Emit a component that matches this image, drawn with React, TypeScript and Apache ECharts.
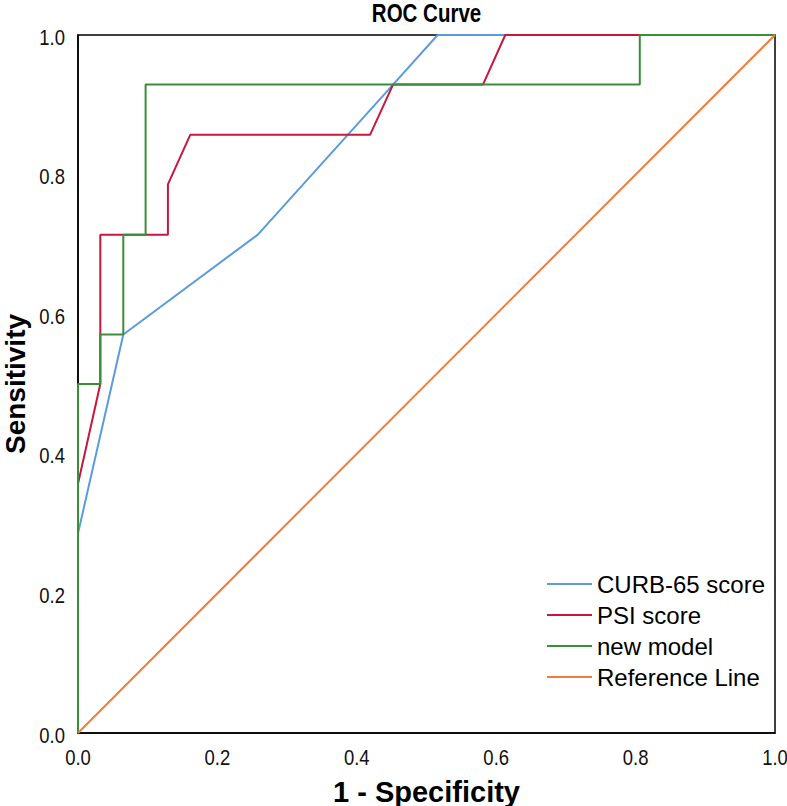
import React, { useEffect, useRef } from "react";
import * as echarts from "echarts";

const chartTitle = "ROC Curve";
const seriesNames = ["CURB-65 score", "PSI score", "new model", "Reference Line"];
const seriesColors = ["#5b9bdc", "#c8173c", "#3a8d3a", "#f07d3c"];
const xTicks = [0, 0.2, 0.4, 0.6, 0.8, 1.0];
const yTicks = [0, 0.2, 0.4, 0.6, 0.8, 1.0];

const curb65: number[][] = [
  [0, 0], [0, 0.286], [0.065, 0.571], [0.258, 0.714], [0.452, 0.929], [0.516, 1], [1, 1],
];
const psi: number[][] = [
  [0, 0], [0, 0.357], [0.032, 0.5], [0.032, 0.714], [0.129, 0.714], [0.129, 0.786],
  [0.161, 0.857], [0.419, 0.857], [0.452, 0.929], [0.581, 0.929], [0.613, 1], [1, 1],
];
const newModel: number[][] = [
  [0, 0], [0, 0.5], [0.032, 0.5], [0.032, 0.571], [0.065, 0.571], [0.065, 0.714],
  [0.097, 0.714], [0.097, 0.929], [0.806, 0.929], [0.806, 1], [1, 1],
];
const referenceLine: number[][] = [[0, 0], [1, 1]];

const FONT = "'Liberation Sans', Arial, Helvetica, sans-serif";
const NARROW_SCALE = 0.84;

export default function App() {
  const ref = useRef<HTMLDivElement>(null);
  useEffect(() => {
    if (!ref.current) return;
    const chart = echarts.init(ref.current, undefined, { renderer: "svg" });
    const datasets = [curb65, psi, newModel, referenceLine];
    chart.setOption({
      animation: false,
      backgroundColor: "#ffffff",
      legend: {
        orient: "vertical",
        left: 547,
        top: 572,
        padding: 0,
        itemWidth: 45,
        itemHeight: 2,
        itemGap: 7,
        icon: "rect",
        data: seriesNames,
        textStyle: { fontFamily: FONT, fontSize: 24, color: "#000", lineHeight: 24 },
      },
      grid: {
        left: 78, right: 12, top: 35, bottom: 73,
        outerBoundsMode: "none",
        containLabel: false,
        show: true, borderColor: "#000", borderWidth: 1.5, backgroundColor: "transparent",
      },
      xAxis: {
        type: "value",
        min: 0,
        max: 1,
        interval: 0.2,
        name: "1 - Specificity",
        nameLocation: "middle",
        nameGap: 44,
        nameTextStyle: { fontFamily: FONT, fontSize: 29, fontWeight: "bold", color: "#000" },
        axisLine: { show: true, lineStyle: { color: "#000", width: 1.5 } },
        axisTick: { show: false },
        splitLine: { show: false },
        axisLabel: { show: false },
      },
      yAxis: {
        type: "value",
        min: 0,
        max: 1,
        interval: 0.2,
        name: "Sensitivity",
        nameLocation: "middle",
        nameGap: 49,
        nameTextStyle: { fontFamily: FONT, fontSize: 28, lineHeight: 28, fontWeight: "bold", color: "#000" },
        axisLine: { show: true, lineStyle: { color: "#000", width: 1.5 } },
        axisTick: { show: false },
        splitLine: { show: false },
        axisLabel: { show: false },
      },
      series: datasets.map((d, i) => ({
        name: seriesNames[i],
        type: "line",
        data: d,
        showSymbol: false,
        symbol: "none",
        color: seriesColors[i],
        lineStyle: { color: seriesColors[i], width: 2 },
        z: 2 + i,
      })),
    });

    const graphics: any[] = [];
    const origin = chart.convertToPixel({ gridIndex: 0 }, [0, 0]) as number[];
    const topRight = chart.convertToPixel({ gridIndex: 0 }, [1, 1]) as number[];
    xTicks.forEach((v) => {
      const p = chart.convertToPixel({ gridIndex: 0 }, [v, 0]) as number[];
      graphics.push({
        type: "text",
        x: p[0],
        y: origin[1] + 24,
        scaleX: NARROW_SCALE,
        style: {
          text: v.toFixed(1),
          fontFamily: FONT,
          fontSize: 22,
          fill: "#111",
          align: "center",
          verticalAlign: "middle",
        },
      });
    });
    yTicks.forEach((v) => {
      const p = chart.convertToPixel({ gridIndex: 0 }, [0, v]) as number[];
      graphics.push({
        type: "text",
        x: origin[0] - 13,
        y: p[1] + 2,
        scaleX: NARROW_SCALE,
        style: {
          text: v.toFixed(1),
          fontFamily: FONT,
          fontSize: 22,
          fill: "#111",
          align: "right",
          verticalAlign: "middle",
        },
      });
    });
    graphics.push({
      type: "text",
      x: (origin[0] + topRight[0]) / 2,
      y: 13,
      scaleX: 0.82,
      style: {
        text: chartTitle,
        fontFamily: FONT,
        fontSize: 25,
        fontWeight: "bold",
        fill: "#000",
        align: "center",
        verticalAlign: "middle",
      },
    });
    chart.setOption({ graphic: graphics });

    return () => chart.dispose();
  }, []);
  return <div ref={ref} style={{ position: "absolute", left: 0, top: 0, width: 787, height: 806 }} />;
}
